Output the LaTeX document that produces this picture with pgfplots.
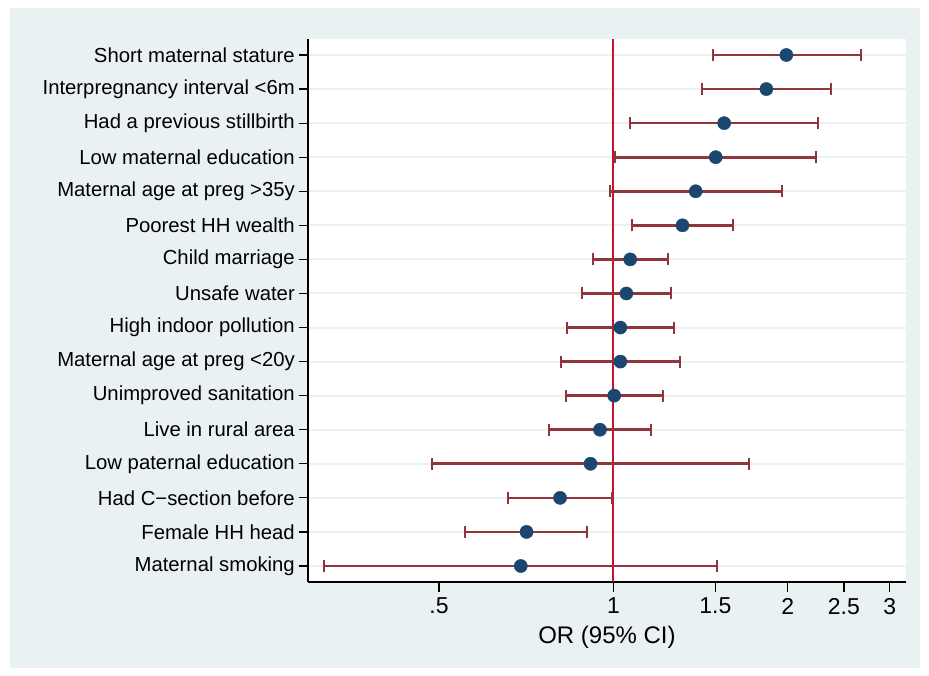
\documentclass[border=0pt]{standalone}
\usepackage{fontspec}
\setmainfont{Liberation Sans}
\usepackage{pgfplots}
\usepackage{pgfplotstable}
\pgfplotsset{compat=1.18}
\definecolor{bgc}{HTML}{EAF1F3}
\definecolor{gridc}{HTML}{EAF1F3}
\definecolor{navy}{HTML}{1A476F}
\definecolor{maroon}{HTML}{90353B}
\definecolor{refred}{HTML}{C4122F}
\newcommand{\bigf}{\fontsize{20.3}{24}\selectfont}
\newcommand{\xf}{\fontsize{23}{27}\selectfont}
\newcommand{\xlf}{\fontsize{24}{28}\selectfont}

% y: row position (16 = top), or: odds ratio, lo/hi: 95% CI
\pgfplotstableread{
y  or    lo    hi
16 1.989 1.484 2.673
15 1.837 1.421 2.376
14 1.553 1.070 2.256
13 1.502 1.008 2.238
12 1.387 0.987 1.953
11 1.316 1.076 1.611
10 1.069 0.921 1.241
9  1.053 0.883 1.256
8  1.028 0.830 1.274
7  1.028 0.812 1.302
6  1.003 0.828 1.220
5  0.948 0.774 1.162
4  0.913 0.486 1.715
3  0.809 0.657 0.994
2  0.708 0.555 0.902
1  0.692 0.317 1.508
}\data

\begin{document}
\begin{tikzpicture}
\fill[white] (0pt,0pt) rectangle (929pt,-676pt);
\fill[bgc] (10pt,-8pt) rectangle (920pt,-668pt);
\begin{axis}[
  at={(308pt,-582pt)}, anchor=south west,
  scale only axis, width=598pt, height=543pt,
  xmode=log, xmin=0.297, xmax=3.2, ymin=0.53, ymax=16.47,
  axis x line*=bottom, axis y line*=left,
  axis line style={-, line width=1.2pt, black},
  axis background/.style={fill=white},
  tick align=outside,
  major tick length=9.5pt,
  every tick/.style={black, line width=1.2pt},
  minor tick num=0,
  xtick={0.5,1,1.5,2,2.5,3},
  xticklabels={.5,1,1.5,2,2.5,3},
  ytick={1,...,16},
  yticklabels={Maternal smoking, Female HH head, Had C−section before, Low paternal education, Live in rural area, Unimproved sanitation, Maternal age at preg <20y, High indoor pollution, Unsafe water, Child marriage, Poorest HH wealth, Maternal age at preg >35y, Low maternal education, Had a previous stillbirth, Interpregnancy interval <6m, Short maternal stature},
  ymajorgrids,
  major grid style={gridc, line width=2pt},
  yticklabel style={font=\bigf, text=black, inner sep=3.5pt},
  xticklabel style={font=\xf, text=black, yshift=-3pt},
  xlabel={OR (95\% CI)},
  xlabel style={font=\xlf, text=black, yshift=-5pt},
  clip=false,
  ci/.style={maroon, line width=2.6pt, mark=|, mark size=6pt, mark options={line width=2pt, maroon}},
]
\addplot[refred, line width=2pt] coordinates {(1,0.53) (1,16.47)};
\pgfplotsforeachungrouped \i in {0,...,15}{%
  \pgfplotstablegetelem{\i}{lo}\of\data \let\lo\pgfplotsretval
  \pgfplotstablegetelem{\i}{hi}\of\data \let\hi\pgfplotsretval
  \pgfplotstablegetelem{\i}{y}\of\data \let\yy\pgfplotsretval
  \edef\temp{\noexpand\addplot[ci] coordinates {(\lo,\yy) (\hi,\yy)};}%
  \temp
}
\addplot[only marks, mark=*, mark size=6.6pt, mark options={draw=navy, fill=navy}] table[x=or, y=y] {\data};
\end{axis}
\end{tikzpicture}
\end{document}
